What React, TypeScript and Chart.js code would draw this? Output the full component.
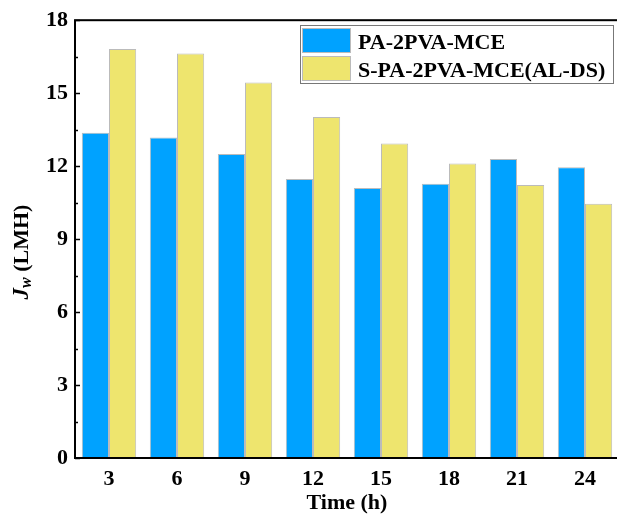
import React, { useEffect, useRef } from "react";
import { Chart, registerables } from "chart.js";

Chart.register(...registerables);

const categories = ["3", "6", "9", "12", "15", "18", "21", "24"];
const seriesNames = ["PA-2PVA-MCE", "S-PA-2PVA-MCE(AL-DS)"];
const pa2pvaMce = [13.37, 13.18, 12.5, 11.47, 11.1, 11.28, 12.29, 11.95];
const sPa2pvaMce = [16.82, 16.63, 15.44, 14.02, 12.93, 12.11, 11.22, 10.45];
const yTicks = [0, 3, 6, 9, 12, 15, 18];

const SERIF = '"Liberation Serif", "Times New Roman", serif';
const BLUE = "#00A2FF";
const YELLOW = "#EEE56E";

const framePlugin = {
  id: "frame",
  afterDraw(chart: any) {
    const ctx = chart.ctx;
    const a = chart.chartArea;
    const y = chart.scales.y;
    ctx.save();
    ctx.strokeStyle = "#000";
    ctx.lineWidth = 2;
    ctx.strokeRect(a.left, a.top, a.right - a.left, a.bottom - a.top);
    // y ticks (major inward 5px, minor inward 3px)
    ctx.lineWidth = 1.5;
    for (let v = 0; v <= 18; v += 1.5) {
      const py = Math.round(y.getPixelForValue(v)) + 0.5;
      const major = Math.abs(v % 3) < 1e-6;
      ctx.beginPath();
      ctx.moveTo(a.left, py);
      ctx.lineTo(a.left + (major ? 5 : 3), py);
      ctx.stroke();
    }
    // y title
    ctx.translate(22, 252);
    ctx.rotate(-Math.PI / 2);
    ctx.fillStyle = "#000";
    ctx.textBaseline = "middle";
    const parts = [
      { t: "J", f: `italic bold 23px ${SERIF}`, dy: 0 },
      { t: "w", f: `italic bold 16px ${SERIF}`, dy: 5 },
      { t: " (LMH)", f: `bold 22px ${SERIF}`, dy: 0 },
    ];
    let total = 0;
    for (const p of parts) {
      ctx.font = p.f;
      total += ctx.measureText(p.t).width;
    }
    let x = -total / 2;
    for (const p of parts) {
      ctx.font = p.f;
      ctx.fillText(p.t, x, p.dy);
      x += ctx.measureText(p.t).width;
    }
    ctx.setTransform(1, 0, 0, 1, 0, 0);
    // x title
    ctx.font = `bold 22px ${SERIF}`;
    ctx.textAlign = "center";
    ctx.textBaseline = "middle";
    ctx.fillText("Time (h)", (a.left + a.right) / 2, 503);
    // legend
    ctx.textAlign = "left";
    ctx.textBaseline = "alphabetic";
    ctx.lineWidth = 1;
    ctx.strokeStyle = "#777";
    ctx.fillStyle = "#fff";
    ctx.fillRect(300.5, 25.5, 313, 58);
    ctx.strokeRect(300.5, 25.5, 313, 58);
    const colors = [BLUE, YELLOW];
    const sy = [28, 56];
    const by = [48.5, 76.5];
    for (let i = 0; i < 2; i++) {
      ctx.fillStyle = colors[i];
      ctx.fillRect(302, sy[i], 49, 25);
      ctx.strokeStyle = "#bbb";
      ctx.strokeRect(302.5, sy[i] + 0.5, 48, 24);
      ctx.fillStyle = "#000";
      ctx.font = `bold 22px ${SERIF}`;
      ctx.fillText(seriesNames[i], 358, by[i]);
    }
    ctx.restore();
  },
};

export default function App() {
  const ref = useRef<HTMLCanvasElement>(null);
  useEffect(() => {
    if (!ref.current) return;
    const chart = new Chart(ref.current, {
      type: "bar",
      data: {
        labels: categories,
        datasets: [
          {
            label: seriesNames[0],
            data: pa2pvaMce,
            backgroundColor: BLUE,
            borderColor: "#bbbbbb",
            borderWidth: 1,
          },
          {
            label: seriesNames[1],
            data: sPa2pvaMce,
            backgroundColor: YELLOW,
            borderColor: "#bbbbbb",
            borderWidth: 1,
          },
        ],
      },
      options: {
        responsive: false,
        animation: false,
        devicePixelRatio: 1,
        layout: { padding: { left: 0, top: 20, right: 11, bottom: 0 } },
        plugins: { legend: { display: false }, tooltip: { enabled: false } },
        datasets: { bar: { categoryPercentage: 0.8, barPercentage: 1 } },
        scales: {
          x: {
            grid: { display: false, drawTicks: false },
            border: { display: false },
            ticks: {
              color: "#000",
              font: { family: SERIF, size: 22, weight: "bold" },
              padding: 8,
              maxRotation: 0,
            },
            afterFit(s: any) {
              s.height = 57;
            },
          },
          y: {
            min: 0,
            max: 18,
            grid: { display: false, drawTicks: false },
            border: { display: false },
            afterBuildTicks(s: any) {
              s.ticks = yTicks.map((v) => ({ value: v }));
            },
            ticks: {
              color: "#000",
              font: { family: SERIF, size: 22, weight: "bold" },
              padding: 7,
            },
            afterFit(s: any) {
              s.width = 75;
            },
          },
        },
      },
      plugins: [framePlugin],
    });
    return () => chart.destroy();
  }, []);
  return (
    <div
      style={{
        position: "absolute",
        left: 0,
        top: 0,
        width: 617,
        height: 515,
        overflow: "hidden",
        background: "#fff",
      }}
    >
      <canvas ref={ref} width={630} height={515} style={{ width: 630, height: 515, display: "block" }} />
    </div>
  );
}
